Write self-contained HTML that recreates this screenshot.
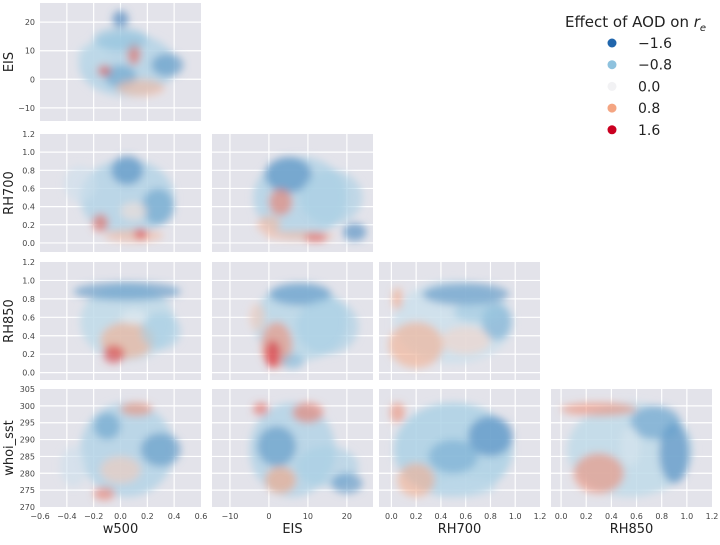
<!DOCTYPE html>
<html><head><meta charset="utf-8"><style>
body{margin:0;background:#fff;font-family:"Liberation Sans","DejaVu Sans",sans-serif}
svg text{font-family:"DejaVu Sans","Liberation Sans",sans-serif}
</style></head><body>
<svg id="chart" width="720" height="540" viewBox="0 0 720 540">
<defs><filter id="blur" x="-50%" y="-50%" width="200%" height="200%"><feGaussianBlur stdDeviation="4"/></filter></defs>
<g id="panels"></g>
<g id="legend">
<text x="565" y="27" font-size="15" fill="#222">Effect of AOD on <tspan font-style="italic">r</tspan><tspan font-style="italic" font-size="10" dy="4">e</tspan></text>
</g>
</svg>
<script>
// variables and axis ranges
const varNames = ["w500","EIS","RH700","RH850","whoi_sst"];
const varMin = [-0.6,-14.6,-0.1,-0.08,270];
const varMax = [0.6,26.7,1.2,1.2,305];
const xTicks = [[-0.6,-0.4,-0.2,0.0,0.2,0.4,0.6],[-10,0,10,20],[0.0,0.2,0.4,0.6,0.8,1.0,1.2],[0.0,0.2,0.4,0.6,0.8,1.0,1.2]];
const yTicks = [null,[-10,0,10,20],[0.0,0.2,0.4,0.6,0.8,1.0,1.2],[0.0,0.2,0.4,0.6,0.8,1.0,1.2],[270,275,280,285,290,295,300,305]];
const legendValues = [-1.6,-0.8,0.0,0.8,1.6];
// point clusters per panel: [x, y, spreadX, spreadY, effect]
const clustersEISvsW500 = [[0.05,5,0.36,11,-0.5],[0.0,21,0.06,3,-1.4],[0.35,5,0.12,4,-1.2],[0.0,1,0.12,4,-1.1],[-0.2,8,0.12,5,-0.4],[0.1,9,0.05,4,1.1],[0.15,-3,0.18,3,0.6],[-0.12,3,0.05,2,1.2],[0.0,14,0.2,4,-0.8]];
const clustersRH700vsW500 = [[0.05,0.5,0.35,0.42,-0.5],[0.05,0.8,0.12,0.16,-1.3],[0.28,0.4,0.12,0.2,-1.1],[0.1,0.08,0.22,0.07,0.6],[-0.15,0.22,0.06,0.1,1.1],[0.15,0.1,0.05,0.06,1.3],[-0.3,0.65,0.12,0.2,-0.3],[0.1,0.35,0.1,0.1,0.2]];
const clustersRH700vsEIS = [[8,0.5,12,0.45,-0.5],[5,0.75,6,0.2,-1.3],[16,0.5,8,0.3,-0.6],[3,0.45,3,0.15,1.0],[8,0.08,9,0.05,0.6],[12,0.06,3,0.05,1.2],[22,0.12,3,0.1,-1.3],[0,0.2,3,0.1,0.6]];
const clustersRH850vsW500 = [[0.05,0.55,0.35,0.42,-0.4],[0.05,0.88,0.4,0.1,-1.2],[0.05,0.35,0.2,0.2,0.7],[-0.05,0.2,0.08,0.1,1.3],[0.3,0.45,0.15,0.2,-0.6],[0.1,0.6,0.1,0.08,-0.1]];
const clustersRH850vsEIS = [[8,0.55,12,0.42,-0.45],[8,0.85,8,0.12,-1.2],[2,0.3,4,0.25,0.9],[1,0.2,2,0.15,1.4],[15,0.5,8,0.3,-0.6],[6,0.12,3,0.08,-0.9],[-3,0.6,2,0.15,0.4]];
const clustersRH850vsRH700 = [[0.5,0.55,0.48,0.45,-0.3],[0.6,0.85,0.35,0.12,-1.2],[0.2,0.3,0.22,0.25,0.7],[0.05,0.8,0.04,0.12,0.8],[0.85,0.55,0.12,0.2,-1.0],[0.6,0.35,0.2,0.15,0.3],[0.7,0.65,0.2,0.1,-0.7]];
const clustersSSTvsW500 = [[0.05,287,0.35,14,-0.5],[0.3,287,0.15,5,-1.2],[-0.1,294,0.1,4,-1.1],[0.12,299,0.12,2,0.9],[0.0,281,0.15,4,0.4],[-0.12,274,0.08,2,1.0],[-0.35,282,0.1,6,-0.3]];
const clustersSSTvsEIS = [[6,287,11,14,-0.5],[10,298,4,3,1.0],[-2,299,2,2,1.1],[2,288,5,6,-1.2],[15,282,8,6,-0.6],[3,278,4,4,0.8],[20,277,4,3,-1.2]];
const clustersSSTvsRH700 = [[0.5,287,0.48,14,-0.55],[0.05,298,0.06,3,0.9],[0.2,278,0.15,5,0.7],[0.8,291,0.18,6,-1.3],[0.5,285,0.2,5,-1.0],[0.6,276,0.25,3,-0.4]];
const clustersSSTvsRH850 = [[0.55,287,0.5,14,-0.4],[0.3,299,0.3,2,0.9],[0.3,280,0.2,6,0.9],[0.9,286,0.12,9,-1.3],[0.75,295,0.2,5,-1.1],[0.55,288,0.08,6,-0.2]];

const panels = [
 {row:1,col:0,data:clustersEISvsW500},
 {row:2,col:0,data:clustersRH700vsW500},{row:2,col:1,data:clustersRH700vsEIS},
 {row:3,col:0,data:clustersRH850vsW500},{row:3,col:1,data:clustersRH850vsEIS},{row:3,col:2,data:clustersRH850vsRH700},
 {row:4,col:0,data:clustersSSTvsW500},{row:4,col:1,data:clustersSSTvsEIS},{row:4,col:2,data:clustersSSTvsRH700},{row:4,col:3,data:clustersSSTvsRH850}
];
const colL=[40,212,379,551], colW=161, rowT=[3,134,262,389], rowH=118;
const NS="http://www.w3.org/2000/svg";
function mk(t,a,p){const e=document.createElementNS(NS,t);for(const k in a)e.setAttribute(k,a[k]);p.appendChild(e);return e;}
function color(v){
 const stops=[[-1.6,[33,102,172]],[-0.8,[142,194,222]],[0,[242,242,244]],[0.8,[244,165,130]],[1.6,[202,0,32]]];
 v=Math.max(-1.6,Math.min(1.6,v));
 for(let i=0;i<4;i++){const a=stops[i],b=stops[i+1];if(v<=b[0]){const t=(v-a[0])/(b[0]-a[0]);return "rgb("+a[1].map((c,j)=>Math.round(c+(b[1][j]-c)*t)).join(",")+")";}}
}
const root=document.getElementById('panels');
panels.forEach((p,pi)=>{
 const col=p.col,row=p.row,x0=colL[col],y0=rowT[row-1];
 const sx=v=>x0+(v-varMin[col])/(varMax[col]-varMin[col])*colW;
 const sy=v=>y0+rowH-(v-varMin[row])/(varMax[row]-varMin[row])*rowH;
 const g=mk('g',{},root);
 
 
 mk('rect',{x:x0,y:y0,width:colW,height:rowH,fill:'#e3e3ea'},g);
 const cp=mk('clipPath',{id:'cp'+pi},g);mk('rect',{x:x0,y:y0,width:colW,height:rowH},cp);
 xTicks[col].forEach(t=>{if(sx(t)>x0+1&&sx(t)<x0+colW-1)mk('line',{x1:sx(t),x2:sx(t),y1:y0,y2:y0+rowH,stroke:'#fff','stroke-width':1.2},g);});
 yTicks[row].forEach(t=>{if(sy(t)>y0+1&&sy(t)<y0+rowH-1)mk('line',{x1:x0,x2:x0+colW,y1:sy(t),y2:sy(t),stroke:'#fff','stroke-width':1.2},g);});
 const dg=mk('g',{'clip-path':'url(#cp'+pi+')'},g);
 const bg=mk('g',{filter:'url(#blur)'},dg);
 p.data.forEach((d,i)=>{
  const e=mk('ellipse',{cx:sx(d[0]),cy:sy(d[1]),rx:Math.abs(sx(d[0]+d[2])-sx(d[0])),ry:Math.abs(sy(d[1]+d[3])-sy(d[1])),fill:color(d[4]),'fill-opacity':i==0?0.85:0.6},bg);
  
  
 });
 if(col==0){
  yTicks[row].forEach(t=>{const tx=mk('text',{x:x0-5,y:sy(t)+3,'font-size':8,fill:'#444','text-anchor':'end'},g);tx.textContent=(row==1||row==4)?(t<0?'\u2212'+(-t):String(t)):t.toFixed(1);
   });
  const yl=mk('text',{x:0,y:0,'font-size':13,fill:'#222','text-anchor':'middle',transform:'translate(13,'+(y0+rowH/2)+') rotate(-90)'},g);
  yl.textContent=varNames[row];
  
 }
 if(row==4){
  xTicks[col].forEach(t=>{const tx=mk('text',{x:sx(t),y:y0+rowH+12,'font-size':8,fill:'#444','text-anchor':'middle'},g);tx.textContent=col==1?(t<0?'\u2212'+(-t):String(t)):(t<0?'\u2212'+(-t).toFixed(1):t.toFixed(1));
   });
  const xl=mk('text',{x:x0+colW/2,y:533,'font-size':13,fill:'#222','text-anchor':'middle'},g);
  xl.textContent=varNames[col];
  
 }
});
const lg=document.getElementById('legend');
legendValues.forEach((v,i)=>{
 const y=43+i*21.7;
 const c=mk('circle',{cx:612,cy:y,r:4.5,fill:color(v)},lg);
 
 const t=mk('text',{x:638,y:y+5,'font-size':14,fill:'#222'},lg);
 t.textContent=v<0?'\u2212'+(-v).toFixed(1):v.toFixed(1);
 
});
</script>
</body></html>
